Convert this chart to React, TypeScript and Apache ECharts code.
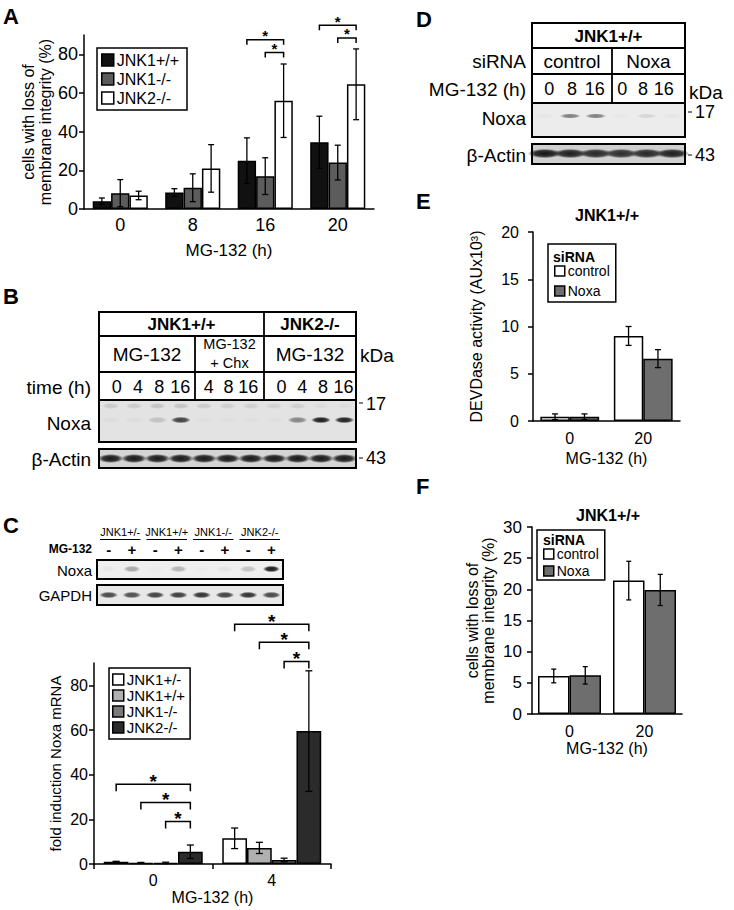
import React, { useEffect, useRef } from "react";
import * as echarts from "echarts";

const FONT = '"Liberation Sans", Arial, Helvetica, sans-serif';

// ---------------- Panel A ----------------
const aCategories = ["0", "8", "16", "20"];
const aNames = ["JNK1+/+", "JNK1-/-", "JNK2-/-"];
const aJnk1WT = [4.0, 8.5, 25.0, 34.5];
const aJnk1WTErr = [1.7, 2.0, 11.8, 13.5];
const aJnk1KO = [8.2, 11.0, 17.0, 24.0];
const aJnk1KOErr = [7.0, 7.2, 9.5, 9.0];
const aJnk2KO = [7.0, 21.0, 56.0, 64.5];
const aJnk2KOErr = [2.2, 12.3, 19.0, 18.3];
const aYTicks = [0, 20, 40, 60, 80];
// [category, fromBar, toBar, level]
const aBrackets = [
  [2, 0, 2, 87.5],
  [2, 1, 2, 81],
  [3, 0, 2, 95],
  [3, 1, 2, 88.5],
];

// ---------------- Panel B (western blot) ----------------
const bGroups = ["JNK1+/+", "JNK2-/-"];
const bTreatments = ["MG-132", "MG-132\n+ Chx", "MG-132"];
const bTimes = [["0", "4", "8", "16"], ["4", "8", "16"], ["0", "4", "8", "16"]];
const bNoxaBand = [0.03, 0.03, 0.16, 0.78, 0.02, 0.02, 0.02, 0.02, 0.45, 0.95, 0.92];
const bNoxaUpper = [0.12, 0.12, 0.15, 0.15, 0.12, 0.1, 0.1, 0.08, 0.1, 0.04, 0.03];
const bActinBand = [0.95, 0.95, 0.95, 0.95, 0.95, 0.95, 0.95, 0.95, 0.95, 0.95, 0.95];

// ---------------- Panel C ----------------
const cGenotypes = ["JNK1+/-", "JNK1+/+", "JNK1-/-", "JNK2-/-"];
const cTreat = ["-", "+", "-", "+", "-", "+", "-", "+"];
const cNoxaBand = [0.03, 0.32, 0.02, 0.26, 0.02, 0.05, 0.2, 0.95];
const cGapdhBand = [0.75, 0.72, 0.78, 0.8, 0.85, 0.78, 0.85, 0.75];
const cCategories = ["0", "4"];
const cNames = ["JNK1+/-", "JNK1+/+", "JNK1-/-", "JNK2-/-"];
const cHet = [1.0, 11.5];
const cHetErr = [0.2, 4.6];
const cWT = [0.5, 7.2];
const cWTErr = [0.2, 2.5];
const cKO1 = [0.5, 1.8];
const cKO1Err = [0.3, 0.8];
const cKO2 = [5.5, 59.5];
const cKO2Err = [3.0, 27.0];
const cYTicks = [0, 20, 40, 60, 80];
const cBrackets = [
  [0, 0, 3, 35.7],
  [0, 1, 3, 27.5],
  [0, 2, 3, 19],
  [1, 0, 3, 107.4],
  [1, 1, 3, 99.3],
  [1, 2, 3, 90.7],
];

// ---------------- Panel D (western blot) ----------------
const dSiRNA = ["control", "Noxa"];
const dTimes = [["0", "8", "16"], ["0", "8", "16"]];
const dNoxaBand = [0.03, 0.5, 0.5, 0.02, 0.1, 0.03];
const dActinBand = [0.97, 0.92, 0.88, 0.85, 0.88, 0.92];

// ---------------- Panel E ----------------
const eCategories = ["0", "20"];
const eNames = ["control", "Noxa"];
const eControl = [0.45, 9.0];
const eControlErr = [0.3, 1.0];
const eNoxa = [0.45, 6.6];
const eNoxaErr = [0.3, 0.95];
const eYTicks = [0, 5, 10, 15, 20];

// ---------------- Panel F ----------------
const fCategories = ["0", "20"];
const fNames = ["control", "Noxa"];
const fControl = [6.1, 21.4];
const fControlErr = [1.1, 3.1];
const fNoxa = [6.2, 19.9];
const fNoxaErr = [1.4, 2.5];
const fYTicks = [0, 5, 10, 15, 20, 25, 30];

const spread = (a: number, b: number, n: number) =>
  Array.from({ length: n }, (_, i) => a + ((b - a) * (i + 0.5)) / n);

function errSeries(gi: number, nBars: number, barIdx: number, gap: number, means: number[], errs: number[], cap: number) {
  return {
    type: "custom",
    xAxisIndex: gi,
    yAxisIndex: gi,
    silent: true,
    z: 5,
    data: means.map((m, i) => [i, m, errs[i]]),
    renderItem: (params: any, api: any) => {
      const c = api.value(0);
      const m = api.value(1);
      const e = api.value(2);
      const p = api.coord([c, m]);
      const band = api.size([1, 0])[0];
      const gw = band * (1 - gap);
      const x = p[0] - gw / 2 + ((barIdx + 0.5) * gw) / nBars;
      const yh = api.coord([c, m + e])[1];
      const yl = api.coord([c, Math.max(0, m - e)])[1];
      const st = { stroke: "#000", lineWidth: 1.3 };
      return {
        type: "group",
        children: [
          { type: "line", shape: { x1: x, y1: yh, x2: x, y2: yl }, style: st },
          { type: "line", shape: { x1: x - cap, y1: yh, x2: x + cap, y2: yh }, style: st },
          { type: "line", shape: { x1: x - cap, y1: yl, x2: x + cap, y2: yl }, style: st },
        ],
      };
    },
  };
}

function bracketSeries(gi: number, nBars: number, gap: number, items: number[][], tick: number, fs: number, lift: number) {
  return {
    type: "custom",
    xAxisIndex: gi,
    yAxisIndex: gi,
    silent: true,
    clip: false,
    z: 6,
    data: items,
    renderItem: (params: any, api: any) => {
      const c = api.value(0);
      const b1 = api.value(1);
      const b2 = api.value(2);
      const lv = api.value(3);
      const p = api.coord([c, lv]);
      const band = api.size([1, 0])[0];
      const gw = band * (1 - gap);
      const bw = gw / nBars;
      const x0 = p[0] - gw / 2;
      const x1 = x0 + (b1 + 0.5) * bw;
      const x2 = x0 + (b2 + 0.5) * bw;
      const y = p[1];
      return {
        type: "group",
        children: [
          {
            type: "polyline",
            shape: { points: [[x1, y + tick], [x1, y], [x2, y], [x2, y + tick]] },
            style: { stroke: "#000", lineWidth: 1.5, fill: "none" },
          },
          {
            type: "text",
            x: (x1 + x2) / 2,
            y: y - lift,
            style: {
              text: "*",
              fontSize: fs,
              fontWeight: "bold",
              fontFamily: FONT,
              fill: "#000",
              align: "center",
              verticalAlign: "middle",
            },
          },
        ],
      };
    },
  };
}

function bar(gi: number, name: string, data: number[], color: string, gap: number) {
  return {
    type: "bar",
    name,
    xAxisIndex: gi,
    yAxisIndex: gi,
    data,
    barGap: "0%",
    barCategoryGap: `${gap * 100}%`,
    silent: true,
    itemStyle: { color, borderColor: "#000", borderWidth: 1.5 },
  };
}

function yAx(gi: number, max: number, ticks: number[], o: any) {
  return {
    type: "value",
    gridIndex: gi,
    min: 0,
    max,
    axisLine: { show: true, lineStyle: { color: "#000", width: 1.5 } },
    axisTick: { show: true, length: 5, customValues: ticks, lineStyle: { color: "#000", width: 1.5 } },
    axisLabel: { customValues: ticks, color: "#000", fontSize: o.fs, margin: o.margin, fontFamily: FONT },
    splitLine: { show: false },
    name: o.name,
    nameLocation: "middle",
    nameGap: o.gap,
    nameRotate: 90,
    nameTextStyle: { color: "#000", fontSize: o.nfs, lineHeight: o.nlh, fontFamily: FONT },
  };
}

function xAx(gi: number, data: string[], o: any) {
  return {
    type: "category",
    gridIndex: gi,
    data,
    axisLine: { show: true, lineStyle: { color: "#000", width: 1.5 } },
    axisTick: { show: !!o.ticks, length: 5, alignWithLabel: false, lineStyle: { color: "#000", width: 1.5 } },
    axisLabel: { color: "#000", fontSize: o.fs, margin: o.margin, fontFamily: FONT },
    name: "MG-132 (h)",
    nameLocation: "middle",
    nameGap: o.gap,
    nameTextStyle: { color: "#000", fontSize: o.nfs, fontFamily: FONT },
  };
}

function legend(prefix: string, names: string[], o: any) {
  return {
    data: names.map((n) => prefix + "|" + n),
    formatter: (n: string) => n.split("|")[1],
    orient: "vertical",
    left: o.left,
    top: o.top,
    padding: o.padding,
    itemGap: o.itemGap,
    itemWidth: o.iw,
    itemHeight: o.iw,
    icon: "rect",
    selectedMode: false,
    borderColor: "#000",
    borderWidth: 1.5,
    itemStyle: { borderColor: "#000", borderWidth: 1.5 },
    textStyle: { color: "#000", fontSize: o.fs, fontFamily: FONT, padding: [0, 0, 0, -2] },
  };
}

function buildGraphics() {
  const g: any[] = [];
  const T = (x: number, y: number, text: string, fs: number, opt: any = {}) => ({
    type: "text",
    x,
    y,
    silent: true,
    style: {
      text,
      fill: "#000",
      fontSize: fs,
      fontFamily: FONT,
      fontWeight: opt.bold ? "bold" : "normal",
      align: opt.align || "center",
      verticalAlign: "middle",
      lineHeight: opt.lh,
    },
  });
  const R = (x: number, y: number, w: number, h: number, fill: string, lw = 2) => ({
    type: "rect",
    silent: true,
    shape: { x, y, width: w, height: h },
    style: { fill, stroke: "#000", lineWidth: lw },
  });
  const L = (x1: number, y1: number, x2: number, y2: number, lw = 1.8) => ({
    type: "line",
    silent: true,
    shape: { x1, y1, x2, y2 },
    style: { stroke: "#000", lineWidth: lw },
  });
  const band = (cx: number, cy: number, w: number, h: number, a: number) => ({
    type: "ellipse",
    silent: true,
    shape: { cx, cy, rx: w / 2, ry: h / 2 },
    style: {
      fill: new echarts.graphic.RadialGradient(0.5, 0.5, 0.5, [
        { offset: 0, color: `rgba(15,15,15,${a})` },
        { offset: 0.6, color: `rgba(15,15,15,${a * 0.85})` },
        { offset: 1, color: "rgba(15,15,15,0)" },
      ]),
    },
  });

  // panel letters
  const letters: [string, number, number][] = [
    ["A", 3, 16],
    ["B", 3, 296],
    ["C", 3, 525],
    ["D", 416, 19],
    ["E", 416, 201],
    ["F", 416, 486],
  ];
  letters.forEach(([s, x, y]) => g.push(T(x, y, s, 22, { bold: true, align: "left" })));

  // ---------- Panel B ----------
  const bL = 99, bR = 356, bDiv1 = 264, bDiv2 = 195;
  const bRows = [312, 336, 372, 400];
  g.push(R(bL, bRows[0], bR - bL, bRows[3] - bRows[0], "#fff"));
  g.push(L(bL, bRows[1], bR, bRows[1]), L(bL, bRows[2], bR, bRows[2]));
  g.push(L(bDiv1, bRows[0], bDiv1, bRows[3]), L(bDiv2, bRows[1], bDiv2, bRows[3]));
  g.push(T((bL + bDiv1) / 2, 324, bGroups[0], 17, { bold: true }));
  g.push(T((bDiv1 + bR) / 2, 324, bGroups[1], 17, { bold: true }));
  const bCells = [[bL, bDiv2], [bDiv2, bDiv1], [bDiv1, bR]];
  bTreatments.forEach((t, i) => {
    const cx = (bCells[i][0] + bCells[i][1]) / 2;
    if (t.includes("\n")) {
      const parts = t.split("\n");
      g.push(T(cx, 344, parts[0], 14.5));
      g.push(T(cx, 362.5, parts[1], 14.5));
    } else {
      g.push(T(cx, 354, t, 19));
    }
  });
  const bNumCells = [[106, 191], [199, 258], [271, 354]];
  bTimes.forEach((arr, ci) => {
    const xs = spread(bNumCells[ci][0], bNumCells[ci][1], arr.length);
    arr.forEach((t, i) => g.push(T(xs[i], 387, t, 18)));
  });
  g.push(T(91, 387, "time (h)", 19, { align: "right" }));
  g.push(T(91, 423, "Noxa", 19, { align: "right" }));
  g.push(T(91, 459, "β-Actin", 19, { align: "right" }));
  g.push(T(360, 355, "kDa", 19, { align: "left" }));
  const bLaneX = spread(bL, bR, 11);
  g.push(R(bL, 400, bR - bL, 42, "#e3e3e3"));
  bNoxaUpper.forEach((a, i) => g.push(band(bLaneX[i], 406, 17, 6, a)));
  bNoxaBand.forEach((a, i) => g.push(band(bLaneX[i], 420, 20, 6.5, a)));
  g.push(R(bL, 400, bR - bL, 42, "none"));
  g.push(R(bL, 449, bR - bL, 19, "#d4d4d4"));
  bActinBand.forEach((a, i) => g.push(band(bLaneX[i], 458.5, 26, 9, a)));
  g.push(R(bL, 449, bR - bL, 19, "none"));
  g.push(L(359, 403, 363, 403, 1), T(366, 404, "17", 18, { align: "left" }));
  g.push(L(359, 458, 363, 458, 1), T(366, 458, "43", 18, { align: "left" }));

  // ---------- Panel C gel ----------
  const cL = 97, cR = 283;
  const cLaneX = spread(cL, cR, 8);
  cGenotypes.forEach((s, i) => {
    const x = (cLaneX[2 * i] + cLaneX[2 * i + 1]) / 2;
    g.push(T(x, 532, s, 11));
    g.push(L(cL + (i * (cR - cL)) / 4 + 3, 539.5, cL + ((i + 1) * (cR - cL)) / 4 - 3, 539.5, 1));
  });
  g.push(T(92, 549, "MG-132", 12, { bold: true, align: "right" }));
  cTreat.forEach((s, i) => g.push(T(cLaneX[i], 549, s, 15, { bold: true })));
  g.push(R(cL, 560, cR - cL, 19, "#efefef", 2));
  cNoxaBand.forEach((a, i) => g.push(band(cLaneX[i], 569, 17, 6.5, a)));
  g.push(R(cL, 560, cR - cL, 19, "none", 2));
  g.push(R(cL, 585, cR - cL, 20, "#e8e8e8", 2));
  cGapdhBand.forEach((a, i) => g.push(band(cLaneX[i], 595, 19, 6.5, a)));
  g.push(R(cL, 585, cR - cL, 20, "none", 2));
  g.push(T(92, 570, "Noxa", 15, { align: "right" }));
  g.push(T(92, 595, "GAPDH", 15, { align: "right" }));

  // ---------- Panel D ----------
  const dL = 532, dR = 685, dDiv = 612;
  const dRows = [23, 48, 74, 103];
  g.push(R(dL, dRows[0], dR - dL, dRows[3] - dRows[0], "#fff"));
  g.push(L(dL, dRows[1], dR, dRows[1]), L(dL, dRows[2], dR, dRows[2]));
  g.push(L(dDiv, dRows[1], dDiv, dRows[3]));
  g.push(T((dL + dR) / 2, 36, "JNK1+/+", 17, { bold: true }));
  g.push(T((dL + dDiv) / 2, 61, dSiRNA[0], 19));
  g.push(T((dDiv + dR) / 2, 61, dSiRNA[1], 19));
  const dNumCells = [[538, 606], [612, 674]];
  dTimes.forEach((arr, ci) => {
    const xs = spread(dNumCells[ci][0], dNumCells[ci][1], arr.length);
    arr.forEach((t, i) => g.push(T(xs[i], 89, t, 18)));
  });
  g.push(T(526, 61, "siRNA", 19, { align: "right" }));
  g.push(T(526, 89, "MG-132 (h)", 19, { align: "right" }));
  g.push(T(526, 118, "Noxa", 19, { align: "right" }));
  g.push(T(526, 155, "β-Actin", 19, { align: "right" }));
  g.push(T(689, 92, "kDa", 19, { align: "left" }));
  const dLaneX = spread(dL, dR, 6);
  g.push(R(dL, 103, dR - dL, 34, "#ececec"));
  dNoxaBand.forEach((a, i) => g.push(band(dLaneX[i], 116, 21, 5, a)));
  g.push(R(dL, 103, dR - dL, 34, "none"));
  g.push(R(dL, 144, dR - dL, 20, "#d0d0d0"));
  dActinBand.forEach((a, i) => g.push(band(dLaneX[i], 153.5, 34, 9.5, a)));
  g.push(R(dL, 144, dR - dL, 20, "none"));
  g.push(L(688, 112, 692, 112, 1), T(695, 112, "17", 18, { align: "left" }));
  g.push(L(688, 155, 692, 155, 1), T(695, 155, "43", 18, { align: "left" }));

  // ---------- Panel E / F titles and legend headers ----------
  g.push(T(607, 215, "JNK1+/+", 16, { bold: true }));
  g.push(T(553, 257, "siRNA", 14, { bold: true, align: "left" }));
  g.push(T(608, 515, "JNK1+/+", 16, { bold: true }));
  g.push(T(543, 540, "siRNA", 14, { bold: true, align: "left" }));
  return g;
}

function buildOption() {
  const gapA = 0.24, gapC = 0.165, gapE = 0.2, gapF = 0.16;
  return {
    animation: false,
    textStyle: { fontFamily: FONT },
    grid: [
      { left: 84, top: 35, width: 290, height: 174 },
      { left: 94, top: 663, width: 237, height: 201 },
      { left: 533, top: 232, width: 147, height: 189 },
      { left: 532, top: 527, width: 150, height: 187 },
    ],
    xAxis: [
      xAx(0, aCategories, { fs: 18, margin: 7, gap: 33, nfs: 17 }),
      xAx(1, cCategories, { fs: 16, margin: 8, gap: 25, nfs: 16, ticks: true }),
      xAx(2, eCategories, { fs: 16, margin: 9, gap: 29, nfs: 16 }),
      xAx(3, fCategories, { fs: 16, margin: 9, gap: 26, nfs: 16 }),
    ],
    yAxis: [
      yAx(0, 90, aYTicks, { fs: 18, margin: 6, gap: 28, nfs: 16, nlh: 17, name: "cells with loss of\nmembrane integrity (%)" }),
      yAx(1, 90, cYTicks, { fs: 16, margin: 6, gap: 31, nfs: 15, nlh: 16, name: "fold induction Noxa mRNA" }),
      yAx(2, 20, eYTicks, { fs: 16, margin: 14, gap: 48, nfs: 16, nlh: 17, name: "DEVDase activity (AUx10³)" }),
      yAx(3, 30, fYTicks, { fs: 17, margin: 10, gap: 36, nfs: 16, nlh: 16, name: "cells with loss of\nmembrane integrity (%)" }),
    ],
    legend: [
      legend("A", aNames, { left: 97, top: 48, padding: [4, 8, 4, 4], itemGap: 3, iw: 12, fs: 16 }),
      legend("C", cNames, { left: 109, top: 668, padding: [4, 5, 4, 3], itemGap: 1, iw: 11, fs: 15 }),
      legend("E", eNames, { left: 548, top: 244, padding: [20, 6, 4, 6], itemGap: 6, iw: 10, fs: 14 }),
      legend("F", fNames, { left: 537, top: 530, padding: [17, 6, 2, 6], itemGap: 3, iw: 10, fs: 14 }),
    ],
    series: [
      bar(0, "A|" + aNames[0], aJnk1WT, "#111111", gapA),
      bar(0, "A|" + aNames[1], aJnk1KO, "#5c5c5c", gapA),
      bar(0, "A|" + aNames[2], aJnk2KO, "#ffffff", gapA),
      errSeries(0, 3, 0, gapA, aJnk1WT, aJnk1WTErr, 3),
      errSeries(0, 3, 1, gapA, aJnk1KO, aJnk1KOErr, 3),
      errSeries(0, 3, 2, gapA, aJnk2KO, aJnk2KOErr, 3),
      bracketSeries(0, 3, gapA, aBrackets, 5, 15, 4),

      bar(1, "C|" + cNames[0], cHet, "#ffffff", gapC),
      bar(1, "C|" + cNames[1], cWT, "#b0b0b0", gapC),
      bar(1, "C|" + cNames[2], cKO1, "#7a7a7a", gapC),
      bar(1, "C|" + cNames[3], cKO2, "#2b2b2b", gapC),
      errSeries(1, 4, 0, gapC, cHet, cHetErr, 3.5),
      errSeries(1, 4, 1, gapC, cWT, cWTErr, 3.5),
      errSeries(1, 4, 2, gapC, cKO1, cKO1Err, 3.5),
      errSeries(1, 4, 3, gapC, cKO2, cKO2Err, 3.5),
      bracketSeries(1, 4, gapC, cBrackets, 7, 19, 3),

      bar(2, "E|" + eNames[0], eControl, "#ffffff", gapE),
      bar(2, "E|" + eNames[1], eNoxa, "#6e6e6e", gapE),
      errSeries(2, 2, 0, gapE, eControl, eControlErr, 3),
      errSeries(2, 2, 1, gapE, eNoxa, eNoxaErr, 3),

      bar(3, "F|" + fNames[0], fControl, "#ffffff", gapF),
      bar(3, "F|" + fNames[1], fNoxa, "#6e6e6e", gapF),
      errSeries(3, 2, 0, gapF, fControl, fControlErr, 2.5),
      errSeries(3, 2, 1, gapF, fNoxa, fNoxaErr, 2.5),
    ],
    graphic: { elements: buildGraphics() },
  };
}

export default function App() {
  const ref = useRef<HTMLDivElement>(null);
  useEffect(() => {
    if (!ref.current) return;
    const chart = echarts.init(ref.current, null, { renderer: "svg" });
    chart.setOption(buildOption() as any);
    return () => chart.dispose();
  }, []);
  return (
    <div
      ref={ref}
      style={{ position: "absolute", left: 0, top: 0, width: 734, height: 910, background: "#fff" }}
    />
  );
}
